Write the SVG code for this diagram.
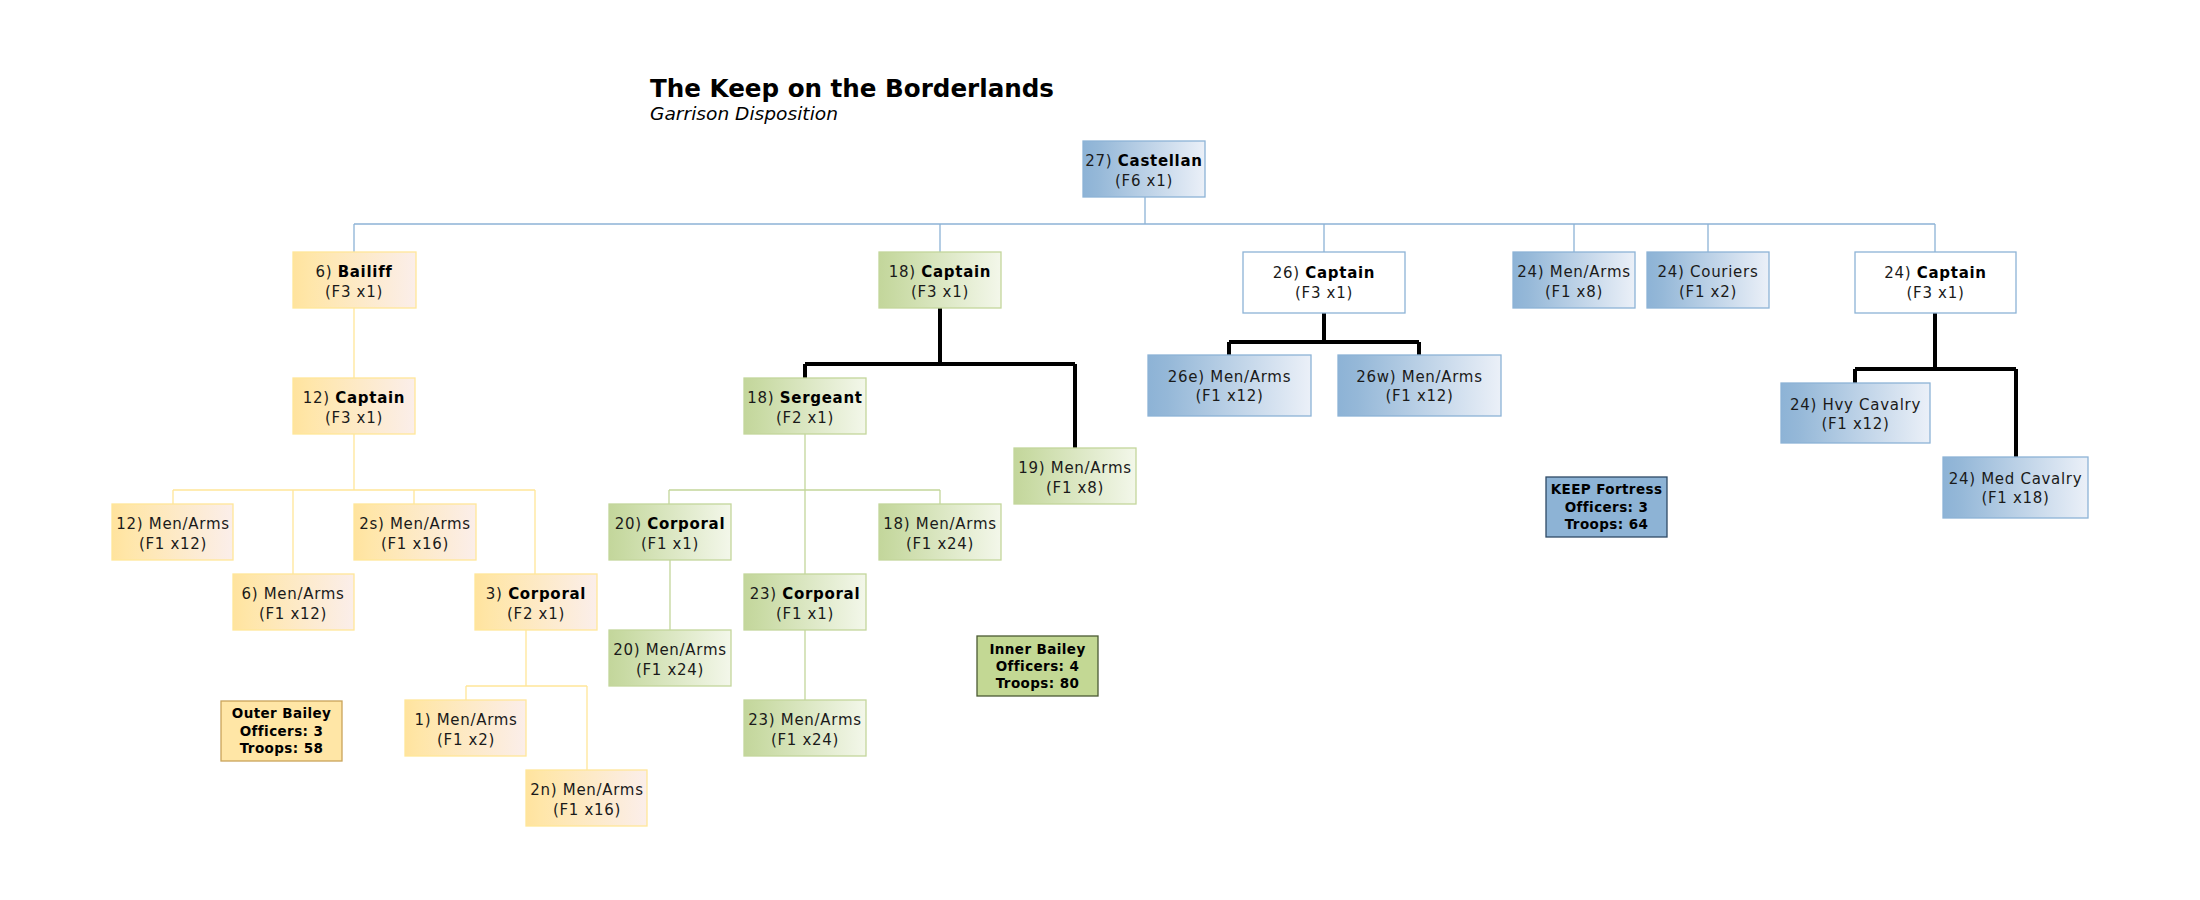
<svg xmlns="http://www.w3.org/2000/svg" width="2200" height="900" viewBox="0 0 2200 900">
<defs>
<linearGradient id="gy" x1="0" y1="0" x2="1" y2="0"><stop offset="0" stop-color="#FFE39E"/><stop offset="0.12" stop-color="#FFE6A8"/><stop offset="1" stop-color="#FBEEEA"/></linearGradient>
<linearGradient id="gg" x1="0" y1="0" x2="1" y2="0"><stop offset="0" stop-color="#C3D69B"/><stop offset="0.12" stop-color="#C8DAA3"/><stop offset="1" stop-color="#F3F7EA"/></linearGradient>
<linearGradient id="gb" x1="0" y1="0" x2="1" y2="0"><stop offset="0" stop-color="#8DB3D6"/><stop offset="0.12" stop-color="#95B8D8"/><stop offset="1" stop-color="#EBF0F8"/></linearGradient>
<style>
.y{fill:url(#gy);stroke:#FFE699;stroke-width:1.3}
.g{fill:url(#gg);stroke:#C3D69B;stroke-width:1.3}
.b{fill:url(#gb);stroke:#8DB3D6;stroke-width:1.3}
.w{fill:#FFFFFF;stroke:#8DB3D6;stroke-width:1.3}
.t{font-family:"DejaVu Sans",Verdana,sans-serif;font-size:15px;letter-spacing:0.7px;fill:#1A1A1A;text-anchor:middle}
.bd{font-weight:bold;fill:#000}
.s{font-family:"DejaVu Sans",Verdana,sans-serif;font-size:13.5px;letter-spacing:0.4px;font-weight:bold;fill:#000;text-anchor:middle}
.cy{fill:none;stroke:#FFE699;stroke-width:1.3}
.cg{fill:none;stroke:#C3D69B;stroke-width:1.3}
.cb{fill:none;stroke:#8DB3D6;stroke-width:1.3}
.ck{fill:none;stroke:#000;stroke-width:4}
</style>
</defs>
<rect x="0" y="0" width="2200" height="900" fill="#FFFFFF"/>
<g id="title">
<text x="650" y="97" font-family="DejaVu Sans,Verdana,sans-serif" font-size="24.5" font-weight="bold" fill="#000" textLength="404" lengthAdjust="spacingAndGlyphs">The Keep on the Borderlands</text>
<text x="650" y="120" font-family="DejaVu Sans,Verdana,sans-serif" font-size="18" font-style="italic" fill="#000" textLength="188" lengthAdjust="spacingAndGlyphs">Garrison Disposition</text>
</g>
<g id="connectors">
<path class="cb" d="M1145,197V224M354,224H1935M354,224V252M940,224V252M1324,224V252M1574,224V252M1708,224V252M1935,224V252"/>
<path class="cy" d="M354,308V378M354,434V490M173,490H535M173,490V504M293,490V574M414,490V504M535,490V574M526,630V686M466,686H587M466,686V700M587,686V770"/>
<path class="cg" d="M805,434V574M669,490H940M669,490V504M940,490V504M670,560V630M805,630V700"/>
<path class="ck" d="M940,308V364M805,364H1075M805,364V378M1075,364V448M1324,313V342M1229,342H1419M1229,342V355M1419,342V355M1935,313V369M1855,369H2016M1855,369V383M2016,369V457"/>
</g>
<g id="castellan"><rect class="b" x="1083" y="141" width="122" height="56"/><text class="t" x="1144" y="166">27) <tspan class="bd">Castellan</tspan></text><text class="t" x="1144" y="186">(F6 x1)</text></g>
<g id="bailiff6"><rect class="y" x="293" y="252" width="123" height="56"/><text class="t" x="354" y="277">6) <tspan class="bd">Bailiff</tspan></text><text class="t" x="354" y="297">(F3 x1)</text></g>
<g id="captain12"><rect class="y" x="293" y="378" width="122" height="56"/><text class="t" x="354" y="403">12) <tspan class="bd">Captain</tspan></text><text class="t" x="354" y="423">(F3 x1)</text></g>
<g id="menarms12"><rect class="y" x="112" y="504" width="121" height="56"/><text class="t" x="173" y="529">12) Men/Arms</text><text class="t" x="173" y="549">(F1 x12)</text></g>
<g id="menarms6"><rect class="y" x="233" y="574" width="121" height="56"/><text class="t" x="293" y="599">6) Men/Arms</text><text class="t" x="293" y="619">(F1 x12)</text></g>
<g id="menarms2s"><rect class="y" x="354" y="504" width="122" height="56"/><text class="t" x="415" y="529">2s) Men/Arms</text><text class="t" x="415" y="549">(F1 x16)</text></g>
<g id="corporal3"><rect class="y" x="475" y="574" width="122" height="56"/><text class="t" x="536" y="599">3) <tspan class="bd">Corporal</tspan></text><text class="t" x="536" y="619">(F2 x1)</text></g>
<g id="menarms1"><rect class="y" x="405" y="700" width="121" height="56"/><text class="t" x="466" y="725">1) Men/Arms</text><text class="t" x="466" y="745">(F1 x2)</text></g>
<g id="menarms2n"><rect class="y" x="526" y="770" width="121" height="56"/><text class="t" x="587" y="795">2n) Men/Arms</text><text class="t" x="587" y="815">(F1 x16)</text></g>
<g id="outer-bailey"><rect x="221" y="701" width="121" height="60" fill="#FFE6A6" stroke="#C9A45A" stroke-width="1.3"/><text class="s" x="281.5" y="718">Outer Bailey</text><text class="s" x="281.5" y="736">Officers: 3</text><text class="s" x="281.5" y="753">Troops: 58</text></g>
<g id="captain18"><rect class="g" x="879" y="252" width="122" height="56"/><text class="t" x="940" y="277">18) <tspan class="bd">Captain</tspan></text><text class="t" x="940" y="297">(F3 x1)</text></g>
<g id="sergeant18"><rect class="g" x="744" y="378" width="122" height="56"/><text class="t" x="805" y="403">18) <tspan class="bd">Sergeant</tspan></text><text class="t" x="805" y="423">(F2 x1)</text></g>
<g id="menarms19"><rect class="g" x="1014" y="448" width="122" height="56"/><text class="t" x="1075" y="473">19) Men/Arms</text><text class="t" x="1075" y="493">(F1 x8)</text></g>
<g id="corporal20"><rect class="g" x="609" y="504" width="122" height="56"/><text class="t" x="670" y="529">20) <tspan class="bd">Corporal</tspan></text><text class="t" x="670" y="549">(F1 x1)</text></g>
<g id="menarms18"><rect class="g" x="879" y="504" width="122" height="56"/><text class="t" x="940" y="529">18) Men/Arms</text><text class="t" x="940" y="549">(F1 x24)</text></g>
<g id="corporal23"><rect class="g" x="744" y="574" width="122" height="56"/><text class="t" x="805" y="599">23) <tspan class="bd">Corporal</tspan></text><text class="t" x="805" y="619">(F1 x1)</text></g>
<g id="menarms20"><rect class="g" x="609" y="630" width="122" height="56"/><text class="t" x="670" y="655">20) Men/Arms</text><text class="t" x="670" y="675">(F1 x24)</text></g>
<g id="menarms23"><rect class="g" x="744" y="700" width="122" height="56"/><text class="t" x="805" y="725">23) Men/Arms</text><text class="t" x="805" y="745">(F1 x24)</text></g>
<g id="inner-bailey"><rect x="977" y="636" width="121" height="60" fill="#C3D894" stroke="#4B5A33" stroke-width="1.3"/><text class="s" x="1037.5" y="654">Inner Bailey</text><text class="s" x="1037.5" y="671">Officers: 4</text><text class="s" x="1037.5" y="688">Troops: 80</text></g>
<g id="captain26"><rect class="w" x="1243" y="252" width="162" height="61"/><text class="t" x="1324" y="278">26) <tspan class="bd">Captain</tspan></text><text class="t" x="1324" y="298">(F3 x1)</text></g>
<g id="menarms26e"><rect class="b" x="1148" y="355" width="163" height="61"/><text class="t" x="1229.5" y="382">26e) Men/Arms</text><text class="t" x="1229.5" y="401">(F1 x12)</text></g>
<g id="menarms26w"><rect class="b" x="1338" y="355" width="163" height="61"/><text class="t" x="1419.5" y="382">26w) Men/Arms</text><text class="t" x="1419.5" y="401">(F1 x12)</text></g>
<g id="menarms24"><rect class="b" x="1513" y="252" width="122" height="56"/><text class="t" x="1574" y="277">24) Men/Arms</text><text class="t" x="1574" y="297">(F1 x8)</text></g>
<g id="couriers24"><rect class="b" x="1647" y="252" width="122" height="56"/><text class="t" x="1708" y="277">24) Couriers</text><text class="t" x="1708" y="297">(F1 x2)</text></g>
<g id="captain24"><rect class="w" x="1855" y="252" width="161" height="61"/><text class="t" x="1935.5" y="278">24) <tspan class="bd">Captain</tspan></text><text class="t" x="1935.5" y="298">(F3 x1)</text></g>
<g id="hvycavalry24"><rect class="b" x="1781" y="383" width="149" height="60"/><text class="t" x="1855.5" y="410">24) Hvy Cavalry</text><text class="t" x="1855.5" y="429">(F1 x12)</text></g>
<g id="medcavalry24"><rect class="b" x="1943" y="457" width="145" height="61"/><text class="t" x="2015.5" y="484">24) Med Cavalry</text><text class="t" x="2015.5" y="503">(F1 x18)</text></g>
<g id="keep-fortress"><rect x="1546" y="477" width="121" height="60" fill="#8DB3D5" stroke="#2E4A66" stroke-width="1.3"/><text class="s" x="1606.5" y="494">KEEP Fortress</text><text class="s" x="1606.5" y="512">Officers: 3</text><text class="s" x="1606.5" y="529">Troops: 64</text></g>
</svg>
